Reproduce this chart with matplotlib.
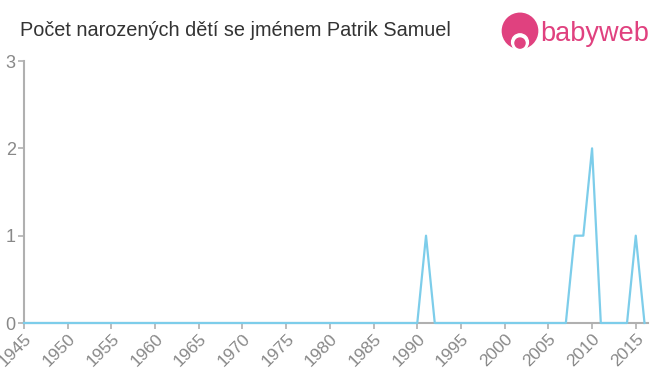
import matplotlib.pyplot as plt
from matplotlib.patches import Circle

# data
years = list(range(1945, 2017))
counts = [0] * len(years)
nonzero = {1991: 1, 2008: 1, 2009: 1, 2010: 2, 2015: 1}
for yr, v in nonzero.items():
    counts[years.index(yr)] = v

title = 'Počet narozených dětí se jménem Patrik Samuel'
xticks = list(range(1945, 2016, 5))
yticks = [0, 1, 2, 3]

grey = '#b0b0b0'
txt = '#888888'
line_col = '#7dcdea'
pink = '#e0417f'

plt.rcParams['font.family'] = ['Liberation Sans', 'DejaVu Sans']

fig = plt.figure(figsize=(6.6, 3.75), dpi=100)
ax = fig.add_axes([24/660, 52/375, 624/660, 262/375])
ax.plot(years, counts, c=line_col, lw=1.6, clip_on=False, zorder=3)

ax.set_xlim(1945, 2016.4)
ax.set_ylim(0, 3)
ax.set_xticks(xticks)
ax.set_xticklabels([str(x) for x in xticks], rotation=45, ha='right',
                   rotation_mode='anchor', fontsize=12.5, color=txt)
ax.set_yticks(yticks)
ax.set_yticklabels([str(y) for y in yticks], fontsize=13, color=txt)
for s in ['top', 'right']:
    ax.spines[s].set_visible(False)
for s in ['left', 'bottom']:
    ax.spines[s].set_color(grey)
    ax.spines[s].set_linewidth(1.5)
ax.tick_params(axis='both', colors=grey, length=4, width=1.2, labelcolor=txt)
ax.tick_params(axis='y', pad=2)
ax.tick_params(axis='x', pad=2)

fig.text(20/660, 1 - 31/375, title, fontsize=14.3, color='#333333', va='center', ha='left')

# logo
lax = fig.add_axes([499/660, 1 - 54/375, 42/660, 42/375])
lax.set_xlim(0, 1)
lax.set_ylim(0, 1)
lax.set_aspect('equal')
lax.axis('off')
lax.add_patch(Circle((0.5, 0.55), 0.42, color=pink))
lax.add_patch(Circle((0.5, 0.28), 0.2, color='white'))
lax.add_patch(Circle((0.5, 0.26), 0.12, color=pink))
fig.text(540/660, 1 - 34/375, 'babyweb', fontsize=19.5, color=pink, va='center', ha='left')

fig.savefig('out.png', dpi=100)
